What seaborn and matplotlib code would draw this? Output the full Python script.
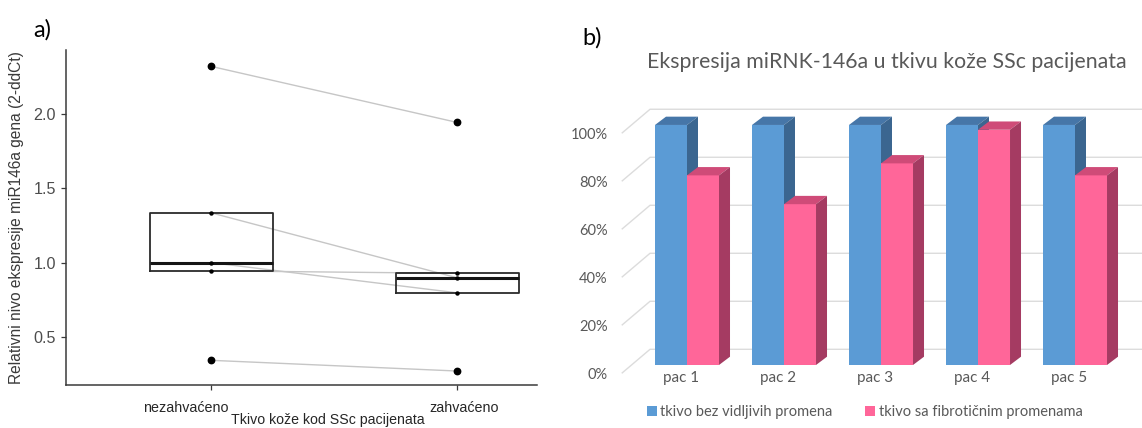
import numpy as np
import pandas as pd
import matplotlib
matplotlib.use("Agg")
import matplotlib.pyplot as plt
import matplotlib.transforms as mtransforms
from matplotlib.patches import Polygon, Patch
import seaborn as sns

# ---------------- data: panel a ----------------
tissue_categories = ["nezahvaćeno", "zahvaćeno"]
patient_ids = ["P1", "P2", "P3", "P4", "P5"]
unaffected_values = [2.32, 1.335, 1.0, 0.945, 0.343]
affected_values = [1.943, 0.898, 0.797, 0.928, 0.271]
a_yticks = [0.5, 1.0, 1.5, 2.0]

# ---------------- data: panel b ----------------
b_categories = ["pac 1", "pac 2", "pac 3", "pac 4", "pac 5"]
b_series = ["tkivo bez vidljivih promena", "tkivo sa fibrotičnim promenama"]
no_change_pct = [100, 100, 100, 100, 100]
fibrotic_pct = [79, 67, 84, 98, 79]
b_yticks = [0, 20, 40, 60, 80, 100]

# ---------------- styling ----------------
sns.set_theme(style="white")
plt.rcParams["font.family"] = ["Liberation Sans", "DejaVu Sans"]
W, H = 1142, 428
DPI = 100


def frac_rect(l, t, r, b):
    return [l / W, 1 - b / H, (r - l) / W, (b - t) / H]


fig = plt.figure(figsize=(W / DPI, H / DPI), dpi=DPI)
fig.patch.set_facecolor("white")

# ======================= panel a =======================
ax1 = fig.add_axes(frac_rect(65.7, 50, 537, 385))
n = len(patient_ids)
df_a = pd.DataFrame({
    "pac": patient_ids * 2,
    "tkivo": [tissue_categories[0]] * n + [tissue_categories[1]] * n,
    "pos": [tissue_categories.index(tissue_categories[0])] * n
           + [tissue_categories.index(tissue_categories[1])] * n,
    "val": unaffected_values + affected_values,
})

sns.lineplot(data=df_a, x="pos", y="val", units="pac", estimator=None,
             color="#c6c6c6", linewidth=1.0, legend=False, ax=ax1, zorder=1,
             sort=True)
sns.boxplot(data=df_a, x="pos", y="val", native_scale=True, fill=False,
            color="#2b2b2b", width=0.5, linewidth=1.3, whis=1.5,
            showcaps=False,
            flierprops=dict(marker="o", markersize=4.6,
                            markerfacecolor="black", markeredgecolor="black"),
            medianprops=dict(linewidth=2.2, color="#151515"),
            ax=ax1, zorder=3)
sns.stripplot(data=df_a, x="pos", y="val", native_scale=True, jitter=False,
              color="black", size=3.2, ax=ax1, zorder=5)

ax1.set_xlim(-0.591, 1.325)
ax1.set_ylim(0.177, 2.430)
ax1.set_xticks(range(len(tissue_categories)))
ax1.set_xticklabels(tissue_categories)
ax1.set_yticks(a_yticks)
ax1.set_yticklabels([f"{v:.1f}" for v in a_yticks])
for side in ["top", "right"]:
    ax1.spines[side].set_visible(False)
for side in ["left", "bottom"]:
    ax1.spines[side].set_color("#3a3a3a")
    ax1.spines[side].set_linewidth(1.1)
ax1.tick_params(axis="y", length=3.5, width=0.9, color="#3a3a3a", pad=3.5,
                labelsize=11.6, labelcolor="#4d4d4d", left=True)
ax1.tick_params(axis="x", length=3.5, width=0.9, color="#3a3a3a", pad=8,
                labelsize=10.3, labelcolor="#262626", bottom=True)
# label shifts as in the reference
for lab, dx in zip(ax1.get_xticklabels(), [-25, 7.5]):
    lab.set_transform(lab.get_transform()
                      + mtransforms.ScaledTranslation(dx / DPI, 0, fig.dpi_scale_trans))
ax1.set_ylabel("Relativni nivo ekspresije miR146a gena (2-ddCt)",
               fontsize=11.2, color="#3a3a3a", labelpad=7)
ax1.set_xlabel("Tkivo kože kod SSc pacijenata", fontsize=10.2, color="#262626")
ax1.xaxis.set_label_coords((328 - 65.7) / (537 - 65.7), (385 - 413) / (385 - 50))
ax1.grid(False)

fig.text(33 / W, 1 - 30 / H, "a)", ha="left", va="center", fontsize=17,
         family=["Lato", "DejaVu Sans"], color="black")

# ======================= panel b =======================
BLUE = "#5b9bd5"
BLUE_TOP = "#4676a8"
BLUE_SIDE = "#3b6690"
PINK = "#ff6699"
PINK_TOP = "#cf4b78"
PINK_SIDE = "#a53b62"
GRID = "#dcdcdc"
TXT = "#595959"
LATO = ["Lato", "DejaVu Sans"]

ax2 = fig.add_axes(frac_rect(612, 100, 1142, 365))
df_b = pd.DataFrame({
    "pos": list(range(len(b_categories))) * 2,
    "serie": [b_series[0]] * len(b_categories) + [b_series[1]] * len(b_categories),
    "pct": no_change_pct + fibrotic_pct,
})
sns.barplot(data=df_b, x="pos", y="pct", hue="serie", hue_order=b_series,
            palette=[BLUE, PINK], native_scale=True, width=0.66,
            errorbar=None, saturation=1, linewidth=0, legend=False, ax=ax2)
ax2.set_xlim(-0.7732, 4.6907)
ax2.set_ylim(0, 110.4)
for s in ax2.spines.values():
    s.set_visible(False)
ax2.grid(False)
ax2.set_facecolor("none")

# pixel -> data conversions (fixed layout)
p0 = ax2.transData.transform((0, 0))
p1 = ax2.transData.transform((1, 1))
ppu_x = p1[0] - p0[0]
ppu_y = p1[1] - p0[1]

DEPTH_DX, DEPTH_DY = 11.0 / ppu_x, 8.3 / ppu_y
face_cols = [(BLUE_TOP, BLUE_SIDE), (PINK_TOP, PINK_SIDE)]
for k, cont in enumerate(ax2.containers):
    top_c, side_c = face_cols[k]
    z = 2 + k
    for rect in cont.patches:
        rect.set_zorder(z)
        x0, y0 = rect.get_x(), rect.get_y()
        w, h = rect.get_width(), rect.get_height()
        y1 = y0 + h
        top = Polygon([(x0, y1), (x0 + w, y1), (x0 + w + DEPTH_DX, y1 + DEPTH_DY),
                       (x0 + DEPTH_DX, y1 + DEPTH_DY)], closed=True,
                      facecolor=top_c, edgecolor="none", zorder=z, clip_on=False)
        side = Polygon([(x0 + w, y0), (x0 + w + DEPTH_DX, y0 + DEPTH_DY),
                        (x0 + w + DEPTH_DX, y1 + DEPTH_DY), (x0 + w, y1)], closed=True,
                       facecolor=side_c, edgecolor="none", zorder=z, clip_on=False)
        ax2.add_patch(top)
        ax2.add_patch(side)

# 3D-style gridlines (front-left slanted part, then back wall)
GRID_FRONT_X = -0.673
x_right = ax2.get_xlim()[1]
for v in b_yticks:
    xs = [GRID_FRONT_X, GRID_FRONT_X + 28.3 / ppu_x, x_right]
    ys = [v - 8.3 / ppu_y, v + 15.7 / ppu_y, v + 15.7 / ppu_y]
    ax2.plot(xs, ys, color=GRID, linewidth=1.0, zorder=0.5, clip_on=False,
             solid_capstyle="butt")

ax2.set_yticks(b_yticks)
ax2.set_yticklabels([f"{v}%" for v in b_yticks])
ax2.tick_params(axis="y", length=0, pad=3, labelsize=10.5, labelcolor=TXT)
for lab in ax2.get_yticklabels():
    lab.set_family(LATO)
    lab.set_transform(lab.get_transform()
                      + mtransforms.ScaledTranslation(0, -8.3 / DPI, fig.dpi_scale_trans))
ax2.set_xticks(range(len(b_categories)))
ax2.set_xticklabels(b_categories)
ax2.tick_params(axis="x", length=0, pad=4, labelsize=11, labelcolor=TXT)
for lab in ax2.get_xticklabels():
    lab.set_family(LATO)
    lab.set_transform(lab.get_transform()
                      + mtransforms.ScaledTranslation(-6 / DPI, 0, fig.dpi_scale_trans))
ax2.set_xlabel("")
ax2.set_ylabel("")

handles = [Patch(facecolor=BLUE, edgecolor="none"), Patch(facecolor=PINK, edgecolor="none")]
leg = ax2.legend(handles, b_series, loc="center", ncol=2, frameon=False,
                 bbox_to_anchor=(864.6 / W, 1 - 412 / H), bbox_transform=fig.transFigure,
                 handlelength=0.7, handleheight=0.7, handletextpad=0.25,
                 columnspacing=2.2, prop={"family": LATO, "size": 10.5})
for t in leg.get_texts():
    t.set_color(TXT)

title = fig.text(886.5 / W, 1 - 62 / H,
                 "Ekspresija miRNK-146a u tkivu kože SSc pacijenata",
                 ha="center", va="center", fontsize=14, family=LATO, color=TXT)
fig.text(582 / W, 1 - 38 / H, "b)", ha="left", va="center", fontsize=17,
         family=LATO, color="black")

# fit title width to reference (~481 px)
renderer = fig.canvas.get_renderer()
wpx = title.get_window_extent(renderer).width
title.set_fontsize(14 * 481 / wpx)

fig.savefig("out.png", dpi=DPI, facecolor="white")
